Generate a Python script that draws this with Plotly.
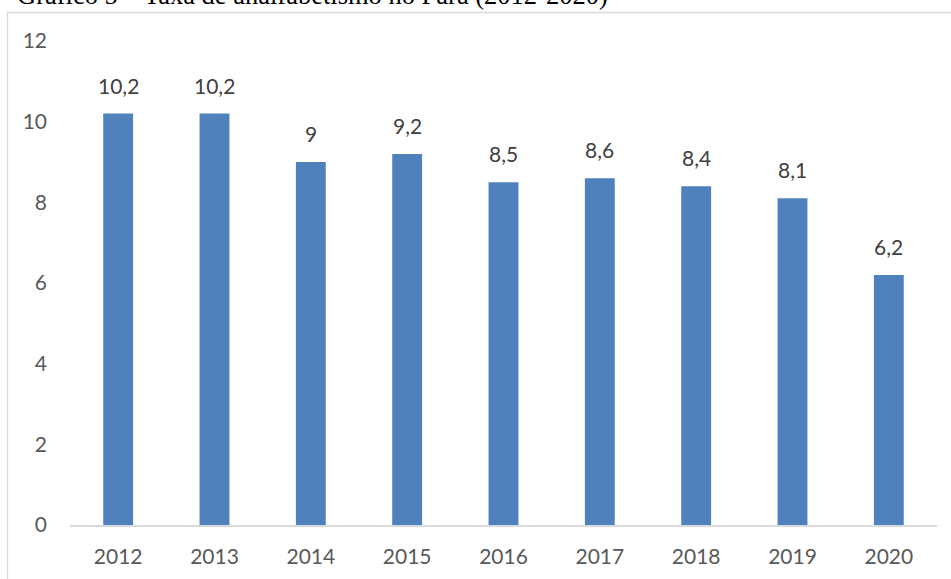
import plotly.graph_objects as go

years = ["2012", "2013", "2014", "2015", "2016", "2017", "2018", "2019", "2020"]
rates = [10.2, 10.2, 9.0, 9.2, 8.5, 8.6, 8.4, 8.1, 6.2]
y_ticks = [0, 2, 4, 6, 8, 10, 12]
title_text = "Gráfico 5 – Taxa de analfabetismo no Pará (2012-2020)"

W, H = 951, 579
ML, MR, MT, MB = 70, 14, 41, 54
PW, PH = W - ML - MR, H - MT - MB


def px_x(px):
    return (px - ML) / PW


def px_y(py):
    return (H - MB - py) / PH


def fmt(v):
    return ("%g" % v).replace(".", ",")


fig = go.Figure()
fig.add_trace(go.Bar(
    x=years, y=rates,
    marker=dict(color="#4f81bd", line=dict(width=0)),
    hoverinfo="skip",
))

for i, v in enumerate(rates):
    fig.add_annotation(
        x=i, y=v, xref="x", yref="y",
        text=fmt(v), showarrow=False,
        yanchor="bottom", yshift=14,
        font=dict(family="Lato", size=21, color="#404040"),
    )

# title (partially cut at the top, as in the reference)
fig.add_annotation(
    x=px_x(15), y=px_y(-5.5),
    xref="paper", yref="paper", text=title_text, showarrow=False,
    xanchor="left", yanchor="middle",
    font=dict(family="Liberation Serif", size=26.5, color="#000000"),
)

# chart frame
fig.add_shape(
    type="rect", xref="paper", yref="paper",
    x0=px_x(7.5), x1=px_x(W + 5),
    y0=px_y(H + 5), y1=px_y(12.5),
    line=dict(color="#d9d9d9", width=1.3), fillcolor="rgba(0,0,0,0)",
    layer="below",
)

fig.update_layout(
    width=W, height=H,
    margin=dict(l=ML, r=MR, t=MT, b=MB, pad=0),
    paper_bgcolor="white", plot_bgcolor="white",
    bargap=0.69,
    showlegend=False,
    font=dict(family="Lato", size=21, color="#595959"),
)
fig.update_xaxes(
    type="category", range=[-0.5, len(years) - 0.5],
    showgrid=False, showline=True, linecolor="#d9d9d9", linewidth=2,
    ticks="", ticklabelstandoff=12,
    tickfont=dict(family="Lato", size=21, color="#595959"),
    fixedrange=True,
)
fig.update_yaxes(
    range=[0, 12], tickvals=y_ticks, showgrid=False, zeroline=False,
    showline=False, ticks="", ticklabelstandoff=22,
    tickfont=dict(family="Lato", size=21, color="#595959"),
    fixedrange=True,
)

fig.write_html(
    "out.html",
    config={"displayModeBar": False},
    post_script="document.body.style.margin='0';document.body.style.overflow='hidden';",
)
